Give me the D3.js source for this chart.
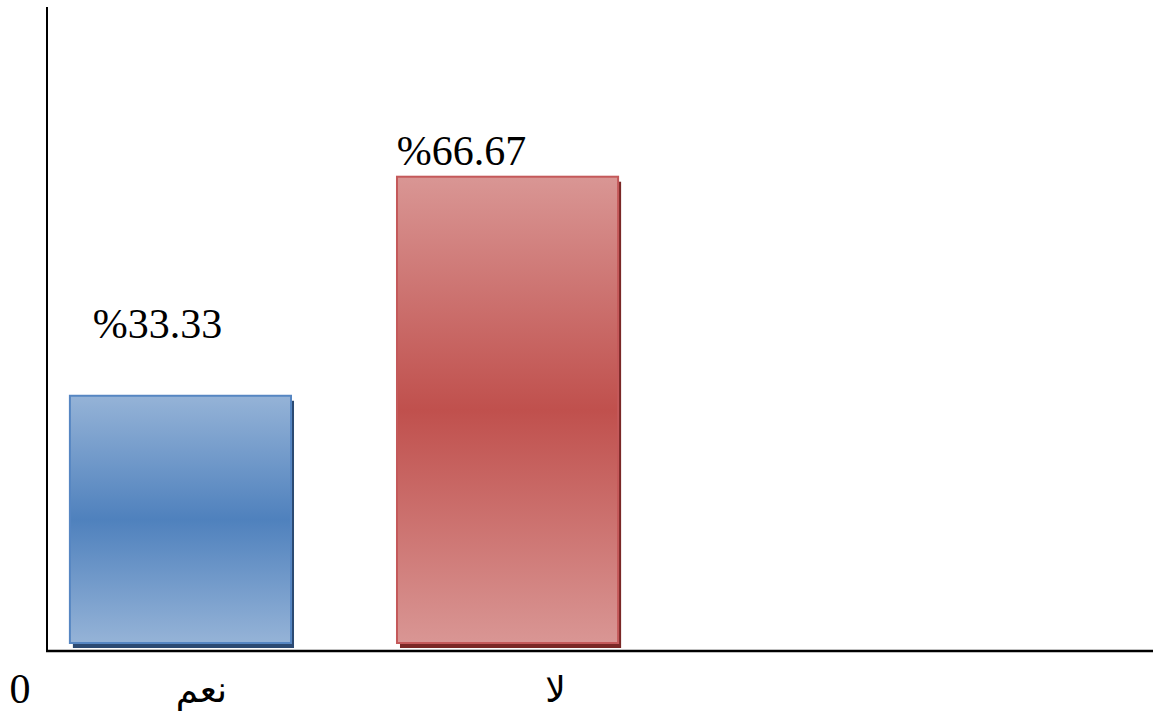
<!DOCTYPE html>
<html>
<head>
<meta charset="utf-8">
<script src="https://cdn.jsdelivr.net/npm/d3@7/dist/d3.min.js"></script>
<style>
  html, body { margin: 0; padding: 0; background: #ffffff; }
  svg { display: block; }
  text { fill: #000; }
</style>
</head>
<body>
<svg id="chart" width="1153" height="715"></svg>
<script>
// Answer categories and their shares (percent)
const categories = ["نعم", "لا"];
const values = [33.33, 66.67];
const valueLabels = ["%33.33", "%66.67"];
const zeroLabel = "0";

// Bar colour sets: light edge, dark centre, border, shadow
const palettes = [
  { light: "#95b3d7", dark: "#4f81bd", stroke: "#5686c2", shadow: "#2c4a72" },
  { light: "#d99694", dark: "#c0504d", stroke: "#c4595a", shadow: "#7a2826" }
];

// Label placement relative to each bar (layout only)
const valueLabelShift = [{ dx: -23, dy: -58 }, { dx: -46, dy: -12 }];
const categoryLabelShift = [21, 48];

const svg = d3.select("#chart");
const W = 1153;
const axisX = 47, axisY = 651;

const x = d3.scaleBand()
  .domain(categories)
  .range([axisX, 641])
  .paddingInner(0.324)
  .paddingOuter(0.07);

const y = d3.scaleLinear()
  .domain([-4.3, 92.5])
  .range([643, 7]);

// Vertical gradients: light at the ends, saturated in the middle
const defs = svg.append("defs");
palettes.forEach((p, i) => {
  const g = defs.append("linearGradient")
    .attr("id", "grad" + i)
    .attr("x1", 0).attr("y1", 0).attr("x2", 0).attr("y2", 1);
  g.append("stop").attr("offset", "0%").attr("stop-color", p.light);
  g.append("stop").attr("offset", "50%").attr("stop-color", p.dark);
  g.append("stop").attr("offset", "100%").attr("stop-color", p.light);
});

const data = categories.map((c, i) => ({ c, v: values[i], i }));
const base = y.range()[0];

// Drop shadows
svg.selectAll("rect.shadow").data(data).join("rect")
  .attr("class", "shadow")
  .attr("x", d => x(d.c) + 3)
  .attr("y", d => y(d.v) + 5)
  .attr("width", x.bandwidth())
  .attr("height", d => base - y(d.v))
  .attr("fill", d => palettes[d.i].shadow);

// Bars
svg.selectAll("rect.bar").data(data).join("rect")
  .attr("class", "bar")
  .attr("x", d => x(d.c))
  .attr("y", d => y(d.v))
  .attr("width", x.bandwidth())
  .attr("height", d => base - y(d.v))
  .attr("fill", d => `url(#grad${d.i})`)
  .attr("stroke", d => palettes[d.i].stroke)
  .attr("stroke-width", 2);

// Axes
svg.append("line")
  .attr("x1", axisX).attr("x2", axisX)
  .attr("y1", 7).attr("y2", axisY + 1)
  .attr("stroke", "#000").attr("stroke-width", 2);
svg.append("line")
  .attr("x1", axisX - 1).attr("x2", W)
  .attr("y1", axisY).attr("y2", axisY)
  .attr("stroke", "#000").attr("stroke-width", 2.5);

// Value labels
svg.selectAll("text.val").data(data).join("text")
  .attr("class", "val")
  .attr("x", d => x(d.c) + x.bandwidth() / 2 + valueLabelShift[d.i].dx)
  .attr("y", d => y(d.v) + valueLabelShift[d.i].dy)
  .attr("text-anchor", "middle")
  .attr("font-family", "Liberation Serif")
  .attr("font-size", 42)
  .text(d => valueLabels[d.i]);

// Category labels
svg.selectAll("text.cat").data(data).join("text")
  .attr("class", "cat")
  .attr("x", d => x(d.c) + x.bandwidth() / 2 + categoryLabelShift[d.i])
  .attr("y", 702)
  .attr("text-anchor", "middle")
  .attr("font-family", "DejaVu Sans")
  .attr("font-size", 36)
  .text(d => d.c);

// Baseline tick value
svg.append("text")
  .attr("x", 20)
  .attr("y", 703)
  .attr("text-anchor", "middle")
  .attr("font-family", "Liberation Serif")
  .attr("font-size", 42)
  .text(zeroLabel);
</script>
</body>
</html>
